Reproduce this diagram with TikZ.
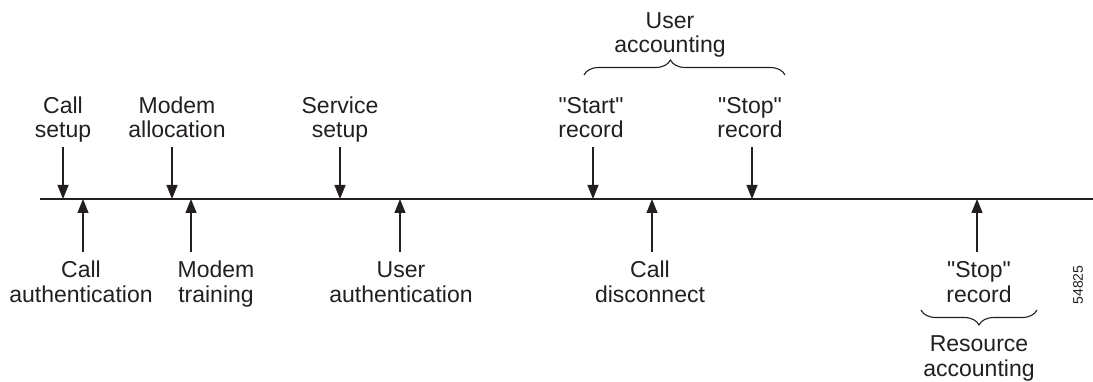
\documentclass[tikz,border=0pt]{standalone}
\usepackage{fontspec}
\setmainfont{Liberation Sans}[Ligatures=TeXOff]
\usetikzlibrary{arrows.meta,decorations.pathreplacing}
\definecolor{ink}{HTML}{231F20}
\begin{document}
\begin{tikzpicture}[x=1pt,y=-1pt,
  lbl/.style={align=center,font=\fontsize{23}{24.5}\selectfont,text=ink,inner sep=0pt,anchor=base},
  arr/.style={draw=ink,line width=1.2pt,-{Triangle[length=14pt,width=11pt]}},
  axisline/.style={draw=ink,line width=1.2pt},
  brc/.style={draw=ink,decorate,decoration={brace,amplitude=15pt,#1},line width=1.1pt},
  brc/.default={aspect=0.5}]
\useasboundingbox (0,0) rectangle (1093,382);
\fill[white] (0,0) rectangle (1093,382);

% timeline
\coordinate (L0) at (40,199);
\coordinate (L1) at (1093,199);
\draw[axisline] (L0) -- (L1);

% points on the line
\foreach \n/\x in {cs/63,ma/172,ss/340,sr/593,pr/752,ca/83,mt/191,ua/400,cd/652,rr/977}
  \coordinate (\n) at (\x,199);
% arrow tails
\foreach \n/\x in {cs/63,ma/172,ss/340,sr/593,pr/752}
  \coordinate (\n t) at (\x,147);
\foreach \n/\x in {ca/83,mt/191,ua/400,cd/652,rr/977}
  \coordinate (\n t) at (\x,252);

% labels above
\node[lbl] (Lcs) at (63,138) {Call\\setup};
\node[lbl] (Lma) at (177,138) {Modem\\allocation};
\node[lbl] (Lss) at (340,138) {Service\\setup};
\node[lbl] (Lsr) at (591,138) {"Start"\\record};
\node[lbl] (Lpr) at (750,138) {"Stop"\\record};
\node[lbl] (Lua) at (670,53) {User\\accounting};

% labels below
\node[lbl] (Lca) at (81,302) {Call\\authentication};
\node[lbl] (Lmt) at (216,302) {Modem\\training};
\node[lbl] (Lau) at (401,302) {User\\authentication};
\node[lbl] (Lcd) at (650,302) {Call\\disconnect};
\node[lbl] (Lrr) at (979,302) {"Stop"\\record};
\node[lbl] (Lra) at (979,376) {Resource\\accounting};

% arrows
\foreach \n in {cs,ma,ss,sr,pr,ca,mt,ua,cd,rr}
  \draw[arr] (\n t) -- (\n);

% braces
\coordinate (B1a) at (584,75);
\coordinate (B1b) at (785,75);
\draw[brc={aspect=0.43}] (B1a) -- (B1b);
\coordinate (B2a) at (1037,310);
\coordinate (B2b) at (921,310);
\draw[brc] (B2a) -- (B2b);

% figure number
\node[font=\fontsize{14}{15}\selectfont,text=ink,rotate=90,inner sep=0pt] (fig) at (1078,285) {54825};
\end{tikzpicture}
\end{document}
